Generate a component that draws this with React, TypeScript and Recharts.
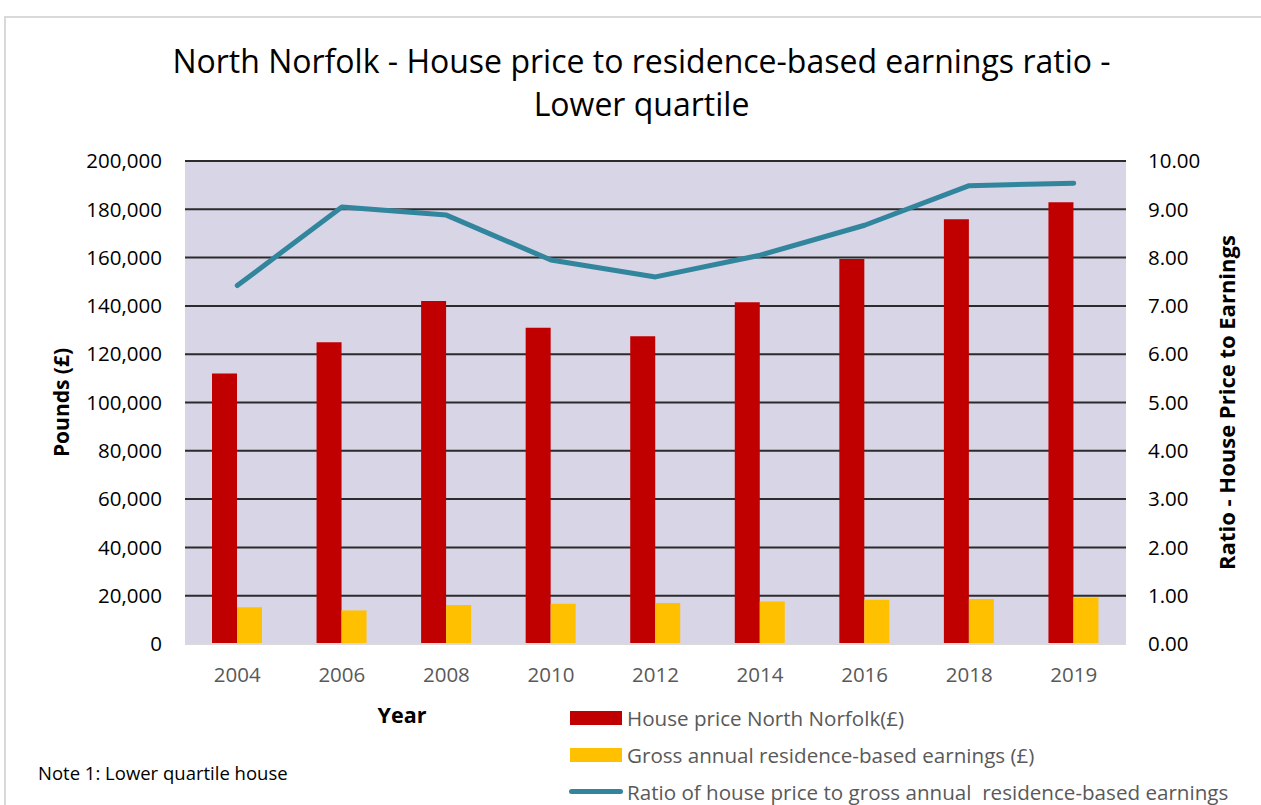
import {
  Bar,
  CartesianGrid,
  ComposedChart,
  Legend,
  Line,
  XAxis,
  YAxis,
} from "recharts";

const years = ["2004", "2006", "2008", "2010", "2012", "2014", "2016", "2018", "2019"];
const housePrice = [112000, 125000, 142000, 131000, 127400, 141500, 159400, 175900, 182900];
const earnings = [15200, 13900, 16100, 16700, 17000, 17600, 18300, 18600, 19300];
const ratio = [7.42, 9.05, 8.88, 7.95, 7.6, 8.05, 8.67, 9.49, 9.54];

const poundTicks = [0, 20000, 40000, 60000, 80000, 100000, 120000, 140000, 160000, 180000, 200000];
const ratioTicks = [0, 1, 2, 3, 4, 5, 6, 7, 8, 9, 10];

const seriesNames = [
  "House price North Norfolk(£)",
  "Gross annual residence-based earnings (£)",
  "Ratio of house price to gross annual  residence-based earnings",
];

const data = years.map((year, i) => ({
  year,
  price: housePrice[i],
  earnings: earnings[i],
  ratio: ratio[i],
}));

const FONT = "'Open Sans', sans-serif";

function LegendBox({ payload }: any) {
  const items = [...(payload || [])].sort(
    (a: any, b: any) => seriesNames.indexOf(a.value) - seriesNames.indexOf(b.value)
  );
  return (
    <div style={{ fontFamily: FONT }}>
      {items.map((entry: any) => (
        <div
          key={entry.value}
          style={{ display: "flex", alignItems: "center", height: 37 }}
        >
          {entry.type === "line" ? (
            <span
              style={{
                display: "inline-block",
                width: 54,
                height: 5,
                borderRadius: 3,
                background: entry.color,
              }}
            />
          ) : (
            <span
              style={{
                display: "inline-block",
                width: 52,
                height: 14,
                marginLeft: 1,
                marginRight: 1,
                background: entry.color,
              }}
            />
          )}
          <span
            style={{
              marginLeft: 4,
              fontSize: 20.6,
              lineHeight: "26px",
              color: "#595959",
              whiteSpace: "pre",
            }}
          >
            {entry.value}
          </span>
        </div>
      ))}
    </div>
  );
}

export default function App() {
  return (
    <div
      style={{
        position: "absolute",
        left: 0,
        top: 0,
        width: 1261,
        height: 805,
        background: "#fff",
        overflow: "hidden",
        fontFamily: FONT,
      }}
    >
      <div
        style={{
          position: "absolute",
          left: 4,
          top: 16,
          right: -10,
          bottom: -10,
          borderLeft: "2px solid #d9d9d9",
          borderTop: "2px solid #d9d9d9",
        }}
      />
      <div
        style={{
          position: "absolute",
          left: 0,
          top: 39,
          width: 1283,
          textAlign: "center",
          fontSize: 32,
          lineHeight: "43px",
          color: "#000",
        }}
      >
        North Norfolk - House price to residence-based earnings ratio -
        <br />
        Lower quartile
      </div>
      <div
        style={{
          position: "absolute",
          left: 352,
          top: 700,
          width: 100,
          textAlign: "center",
          fontSize: 21.5,
          fontWeight: 700,
          color: "#000",
        }}
      >
        Year
      </div>
      <div
        style={{
          position: "absolute",
          left: 38,
          top: 760,
          fontSize: 18.5,
          color: "#000",
        }}
      >
        Note 1: Lower quartile house
      </div>
      <div style={{ position: "absolute", left: 0, top: 0 }}>
        <ComposedChart
          width={1261}
          height={805}
          data={data}
          margin={{ top: 161, right: 55, bottom: 131, left: 101 }}
          barGap={0}
        >
          <CartesianGrid
            yAxisId="left"
            vertical={false}
            fill="#d8d5e6"
            stroke="#2b2b2b"
            strokeWidth={2}
          />
          <XAxis
            dataKey="year"
            height={30}
            tickLine={false}
            tickSize={0}
            tickMargin={23}
            axisLine={{ stroke: "#d9d9d9", strokeWidth: 2 }}
            tick={{ fontSize: 20.5, fill: "#595959", fontFamily: FONT }}
          />
          <YAxis
            yAxisId="left"
            width={84}
            domain={[0, 200000]}
            ticks={poundTicks}
            interval={0}
            tickLine={false}
            axisLine={false}
            tickSize={0}
            tickMargin={23}
            tickFormatter={(v: number) => v.toLocaleString("en-GB")}
            tick={{ fontSize: 20.5, fill: "#000", fontFamily: FONT }}
            label={{
              value: "Pounds (£)",
              angle: -90,
              position: "left",
              offset: 39,
              style: { textAnchor: "middle", fontWeight: 700, fontSize: 21, fill: "#000", fontFamily: FONT },
            }}
          />
          <YAxis
            yAxisId="right"
            orientation="right"
            width={80}
            domain={[0, 10]}
            ticks={ratioTicks}
            interval={0}
            tickLine={false}
            axisLine={false}
            tickSize={0}
            tickMargin={22}
            tickFormatter={(v: number) => v.toFixed(2)}
            tick={{ fontSize: 20.5, fill: "#000", fontFamily: FONT, textAnchor: "start" }}
            label={{
              value: "Ratio - House Price to Earnings",
              angle: -90,
              position: "right",
              offset: 21,
              style: { textAnchor: "middle", fontWeight: 700, fontSize: 22, fill: "#000", fontFamily: FONT },
            }}
          />
          <Legend
            layout="horizontal"
            verticalAlign="middle"
            align="center"
            wrapperStyle={{ left: 569, top: 699, width: 690 }}
            content={<LegendBox />}
          />
          <Bar
            yAxisId="left"
            dataKey="price"
            name={seriesNames[0]}
            fill="#c00000"
            barSize={25}
            legendType="rect"
            isAnimationActive={false}
          />
          <Bar
            yAxisId="left"
            dataKey="earnings"
            name={seriesNames[1]}
            fill="#ffc000"
            barSize={25}
            legendType="rect"
            isAnimationActive={false}
          />
          <Line
            yAxisId="right"
            type="linear"
            dataKey="ratio"
            name={seriesNames[2]}
            stroke="#31859c"
            strokeWidth={5}
            strokeLinecap="round"
            strokeLinejoin="round"
            dot={false}
            activeDot={false}
            legendType="line"
            isAnimationActive={false}
          />
        </ComposedChart>
      </div>
    </div>
  );
}
